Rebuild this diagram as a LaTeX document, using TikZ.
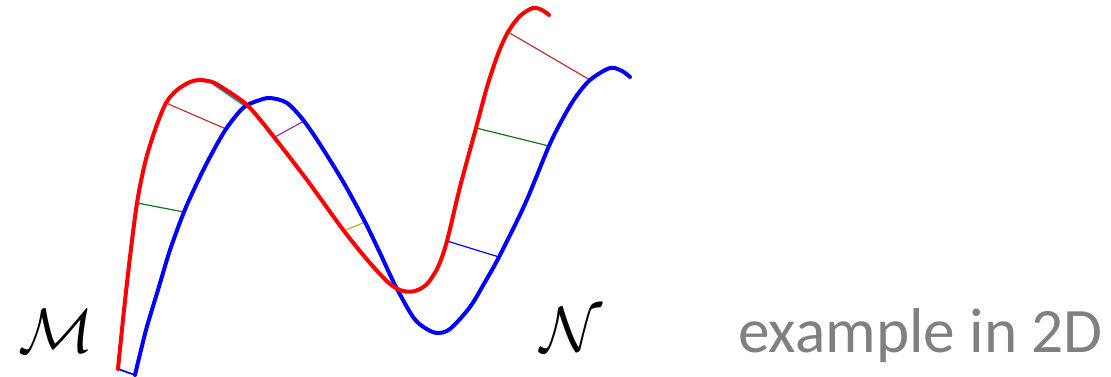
\RequirePackage{fix-cm}
\documentclass[tikz,border=0pt]{standalone}
\usepackage{fontspec}
\setmainfont{Carlito}
\definecolor{txtgray}{RGB}{128,128,128}
\definecolor{cbrown}{RGB}{190,50,50}
\definecolor{cgreen}{RGB}{20,120,20}
\definecolor{cteal}{RGB}{0,160,160}
\definecolor{cpurple}{RGB}{170,40,170}
\definecolor{colive}{RGB}{180,180,50}
\begin{document}
\begin{tikzpicture}[x=0.75pt,y=-0.75pt,
  curve/.style={line width=3pt,line cap=round,line join=round},
  match/.style={line width=0.9pt},
  lbl/.style={inner sep=0pt,anchor=base west}]
\useasboundingbox (0,0) rectangle (1111,377);
% correspondence end points
\coordinate (r1) at (166,103); \coordinate (b1) at (226,129);
\coordinate (r2) at (508,32);  \coordinate (b2) at (590,80);
\coordinate (r3) at (213,84);  \coordinate (b3) at (245,106);
\coordinate (r4) at (275,137); \coordinate (b4) at (304,121);
\coordinate (r5) at (137,203); \coordinate (b5) at (184,212);
\coordinate (r6) at (476,128); \coordinate (b6) at (549,146);
\coordinate (r7) at (344,231); \coordinate (b7) at (365,222);
\coordinate (r8) at (447,241); \coordinate (b8) at (499,257);
\coordinate (r9) at (118,369); \coordinate (b9) at (135,375);
\coordinate (r10) at (408,292); \coordinate (b10) at (399,290);
% correspondence lines
\draw[match,cbrown] (r1) -- (b1);
\draw[match,cbrown] (r2) -- (b2);
\draw[match,cteal,line width=1.3pt] (r3) -- (b3);
\draw[match,cpurple] (r4) -- (b4);
\draw[match,cgreen] (r5) -- (b5);
\draw[match,cgreen] (r6) -- (b6);
\draw[match,colive] (r7) -- (b7);
\draw[match,blue] (r8) -- (b8);
\draw[match,blue,line width=1.3pt] (r9) -- (b9);
\draw[match,gray!60!black,line width=1.5pt] (r10) -- (b10);
% blue curve N
\draw[curve,blue] plot[smooth,tension=0.5] coordinates {
 (135,375) (146,330) (158,290) (170,250) (184,212) (197,183) (210,157)
 (226,129) (243,108) (257,101) (270,98) (287,103) (304,121) (323,149)
 (345,185) (365,222) (380,253) (395,285) (413,317) (425,328) (437,333)
 (450,329) (470,307) (485,282) (499,257) (525,204) (549,146) (562,120)
 (575,98) (590,80) (610,68) (622,71) (630,77)};
% red curve M
\draw[curve,red] plot[smooth,tension=0.5] coordinates {
 (118,369) (124,310) (130,257) (137,203) (145,163) (155,130) (166,103)
 (177,90) (190,82) (200,80) (212,82) (223,88) (247,105) (270,132)
 (307,180) (344,231) (370,263) (390,284) (403,291) (415,291) (427,284)
 (438,267) (447,241) (460,187) (476,128) (487,87) (498,54) (508,32)
 (520,16) (533,8) (542,10) (549,15)};
% labels
\node[lbl] (M) at (18,353) {\fontsize{47}{50}\selectfont$\mathcal{M}$};
\node[lbl] (N) at (540,352) {\fontsize{48}{50}\selectfont$\mathcal{N}$};
\node[lbl,text=txtgray] (ex) at (738,353) {\fontsize{47.5}{50}\selectfont example in 2D};
\end{tikzpicture}
\end{document}
